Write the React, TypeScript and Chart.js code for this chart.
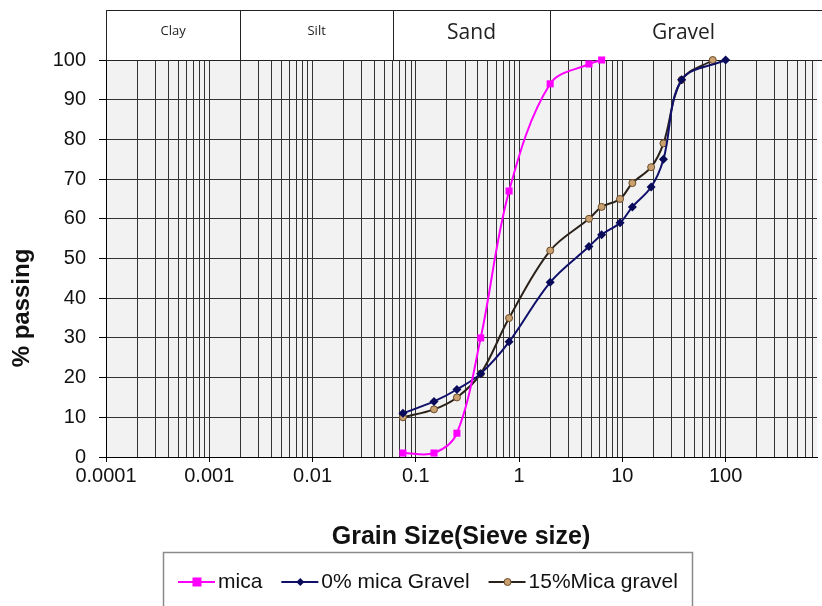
import React, { useEffect, useRef } from 'react';
import { Chart, registerables } from 'chart.js';

Chart.register(...registerables);

// ---- data ----
const micaSize = [0.075, 0.15, 0.25, 0.425, 0.8, 2, 4.75, 6.3];
const micaPassing = [1, 1, 6, 30, 67, 94, 99, 100];

const gravel0Size = [0.075, 0.15, 0.25, 0.425, 0.8, 2, 4.75, 6.3, 9.5, 12.5, 19, 25, 37.5, 100];
const gravel0Passing = [11, 14, 17, 21, 29, 44, 53, 56, 59, 63, 68, 75, 95, 100];

const gravel15Size = [0.075, 0.15, 0.25, 0.425, 0.8, 2, 4.75, 6.3, 9.5, 12.5, 19, 25, 37.5, 75];
const gravel15Passing = [10, 12, 15, 21, 35, 52, 60, 63, 65, 69, 73, 79, 95, 100];

const seriesNames = ['mica', '0% mica Gravel', '15%Mica gravel'];

const decadeExponents = [-4, -3, -2, -1, 0, 1, 2];
const decadeLabels = ['0.0001', '0.001', '0.01', '0.1', '1', '10', '100'];

const soilClasses = ['Clay', 'Silt', 'Sand', 'Gravel'];
const soilBounds = [0.0001, 0.002, 0.06, 2, 767];

const X_MIN = 0.0001;
const X_MAX = 767;

const FONT = "'Liberation Sans', Arial, sans-serif";

function isDecade(v: number) {
  const l = Math.log10(v);
  return Math.abs(l - Math.round(l)) < 1e-9;
}

function toPoints(xs: number[], ys: number[]) {
  return xs.map((x, i) => ({ x, y: ys[i] }));
}

const COLORS = {
  mica: '#ff00ff',
  g0: '#10106a',
  g0Point: '#0a0a5a',
  g15Line: '#2a221a',
  g15Point: '#c9a070',
  g15Border: '#6a4a28',
};

function drawMarker(ctx: CanvasRenderingContext2D, kind: number, x: number, y: number) {
  ctx.save();
  if (kind === 0) {
    ctx.fillStyle = COLORS.mica;
    ctx.fillRect(x - 4.5, y - 4.5, 9, 9);
  } else if (kind === 1) {
    ctx.fillStyle = COLORS.g0Point;
    ctx.beginPath();
    ctx.moveTo(x, y - 4);
    ctx.lineTo(x + 4, y);
    ctx.lineTo(x, y + 4);
    ctx.lineTo(x - 4, y);
    ctx.closePath();
    ctx.fill();
  } else {
    ctx.fillStyle = COLORS.g15Point;
    ctx.strokeStyle = COLORS.g15Border;
    ctx.lineWidth = 1;
    ctx.beginPath();
    ctx.arc(x, y, 3.5, 0, Math.PI * 2);
    ctx.fill();
    ctx.stroke();
  }
  ctx.restore();
}

const decorPlugin = {
  id: 'decor',
  beforeDraw(chart: any) {
    const { ctx, chartArea } = chart;
    ctx.save();
    ctx.fillStyle = '#ffffff';
    ctx.fillRect(0, 0, chart.width, chart.height);
    ctx.fillStyle = '#f2f2f2';
    ctx.fillRect(chartArea.left, chartArea.top, chartArea.right - chartArea.left, chartArea.bottom - chartArea.top);
    ctx.restore();
  },
  beforeDatasetsDraw(chart: any) {
    const { ctx, chartArea } = chart;
    const xs = chart.scales.x;
    const top = 10;
    const bottom = chartArea.top;
    ctx.save();
    ctx.fillStyle = '#ffffff';
    ctx.fillRect(chartArea.left, top, chart.width - chartArea.left, bottom - top);
    ctx.strokeStyle = '#222';
    ctx.lineWidth = 1;
    ctx.beginPath();
    ctx.moveTo(chartArea.left, top + 0.5);
    ctx.lineTo(chart.width, top + 0.5);
    ctx.moveTo(chartArea.left, bottom + 0.5);
    ctx.lineTo(chart.width, bottom + 0.5);
    for (let i = 0; i < soilBounds.length - 1; i++) {
      const px = Math.round(xs.getPixelForValue(soilBounds[i])) + 0.5;
      ctx.moveTo(px, top);
      ctx.lineTo(px, bottom);
    }
    ctx.stroke();
    ctx.fillStyle = '#222';
    ctx.textAlign = 'center';
    ctx.textBaseline = 'middle';
    for (let i = 0; i < soilClasses.length; i++) {
      const a = xs.getPixelForValue(soilBounds[i]);
      const b = Math.min(xs.getPixelForValue(soilBounds[i + 1]), chart.width);
      const small = i < 2;
      ctx.font = small ? `13px 'Open Sans', sans-serif` : `21px 'Open Sans', sans-serif`;
      ctx.fillText(soilClasses[i], (a + b) / 2, small ? 31 : 33);
    }
    ctx.restore();
  },
  afterDraw(chart: any) {
    const { ctx } = chart;
    ctx.save();
    // y-axis title
    ctx.fillStyle = '#111';
    ctx.font = `bold 24px ${FONT}`;
    ctx.textAlign = 'center';
    ctx.textBaseline = 'middle';
    ctx.translate(22, 308);
    ctx.rotate(-Math.PI / 2);
    ctx.fillText('% passing', 0, 0);
    ctx.restore();

    ctx.save();
    ctx.fillStyle = '#111';
    ctx.font = `bold 25px ${FONT}`;
    ctx.textAlign = 'center';
    ctx.textBaseline = 'middle';
    ctx.fillText('Grain Size(Sieve size)', 461, 537);

    const colors = [COLORS.mica, COLORS.g0, COLORS.g15Line];
    ctx.font = `21px ${FONT}`;
    ctx.textAlign = 'left';
    let x = 178;
    const y = 582;
    let textEnd = x;
    for (let i = 0; i < seriesNames.length; i++) {
      ctx.strokeStyle = colors[i];
      ctx.lineWidth = 2;
      ctx.beginPath();
      ctx.moveTo(x, y);
      ctx.lineTo(x + 37, y);
      ctx.stroke();
      drawMarker(ctx, i, x + 19, y);
      ctx.fillStyle = '#111';
      ctx.fillText(seriesNames[i], x + 40, y);
      textEnd = x + 40 + ctx.measureText(seriesNames[i]).width;
      x = textEnd + 19;
    }
    // legend box
    ctx.strokeStyle = '#8a8a8a';
    ctx.lineWidth = 1.5;
    ctx.strokeRect(163.5, 552.5, Math.round(textEnd + 15 - 163.5), 70);
    ctx.restore();
  },
};

export default function App() {
  const ref = useRef<HTMLCanvasElement | null>(null);

  useEffect(() => {
    if (!ref.current) return;
    const chart = new Chart(ref.current, {
      type: 'line',
      data: {
        datasets: [
          {
            label: seriesNames[0],
            data: toPoints(micaSize, micaPassing),
            borderColor: COLORS.mica,
            backgroundColor: COLORS.mica,
            borderWidth: 2,
            pointStyle: 'rect',
            pointRadius: 5,
            pointBorderWidth: 0,
            tension: 0.35,
            clip: false,
          },
          {
            label: seriesNames[1],
            data: toPoints(gravel0Size, gravel0Passing),
            borderColor: COLORS.g0,
            backgroundColor: COLORS.g0Point,
            borderWidth: 2,
            pointStyle: 'rectRot',
            pointRadius: 4.5,
            pointBorderWidth: 0,
            tension: 0.35,
            clip: false,
          },
          {
            label: seriesNames[2],
            data: toPoints(gravel15Size, gravel15Passing),
            borderColor: COLORS.g15Line,
            backgroundColor: COLORS.g15Point,
            pointBorderColor: COLORS.g15Border,
            borderWidth: 2,
            pointStyle: 'circle',
            pointRadius: 3.5,
            pointBorderWidth: 1,
            tension: 0.35,
            clip: false,
          },
        ],
      },
      options: {
        responsive: false,
        animation: false,
        layout: { padding: { top: 60, right: 0, bottom: 0, left: 0 } },
        plugins: {
          legend: { display: false },
          tooltip: { enabled: false },
          title: { display: false },
        },
        scales: {
          x: {
            type: 'logarithmic',
            min: X_MIN,
            max: X_MAX,
            afterBuildTicks: (scale: any) => {
              const t: any[] = [];
              for (const e of decadeExponents) {
                for (let m = 1; m <= 9; m++) {
                  const v = m * Math.pow(10, e);
                  if (v >= X_MIN * 0.999 && v <= X_MAX) t.push({ value: v, major: m === 1 });
                }
              }
              scale.ticks = t;
            },
            afterFit: (scale: any) => {
              scale.height = 149;
            },
            ticks: {
              autoSkip: false,
              maxRotation: 0,
              minRotation: 0,
              padding: 2,
              color: '#111',
              font: { family: FONT, size: 20 },
              callback: (value: any) => {
                const v = Number(value);
                if (!isDecade(v)) return '';
                const idx = decadeExponents.indexOf(Math.round(Math.log10(v)));
                return idx >= 0 ? decadeLabels[idx] : '';
              },
            },
            grid: {
              color: '#333333',
              lineWidth: 1,
              tickLength: 5,
              tickColor: (c: any) => (c.tick && isDecade(c.tick.value) ? '#000' : 'rgba(0,0,0,0)'),
            },
            border: { display: true, color: '#000', width: 1 },
          },
          y: {
            type: 'linear',
            min: 0,
            max: 100,
            afterFit: (scale: any) => {
              scale.width = 106;
            },
            ticks: {
              stepSize: 10,
              padding: 13,
              color: '#111',
              font: { family: FONT, size: 20 },
            },
            grid: {
              color: '#333333',
              lineWidth: 1,
              tickLength: 7,
              tickColor: '#000',
            },
            border: { display: true, color: '#000', width: 1 },
          },
        },
      },
      plugins: [decorPlugin],
    } as any);
    return () => chart.destroy();
  }, []);

  return (
    <div style={{ position: 'absolute', left: 0, top: 0, width: 822, height: 606, background: '#fff' }}>
      <canvas ref={ref} width={822} height={606} style={{ display: 'block', width: 822, height: 606 }} />
    </div>
  );
}
